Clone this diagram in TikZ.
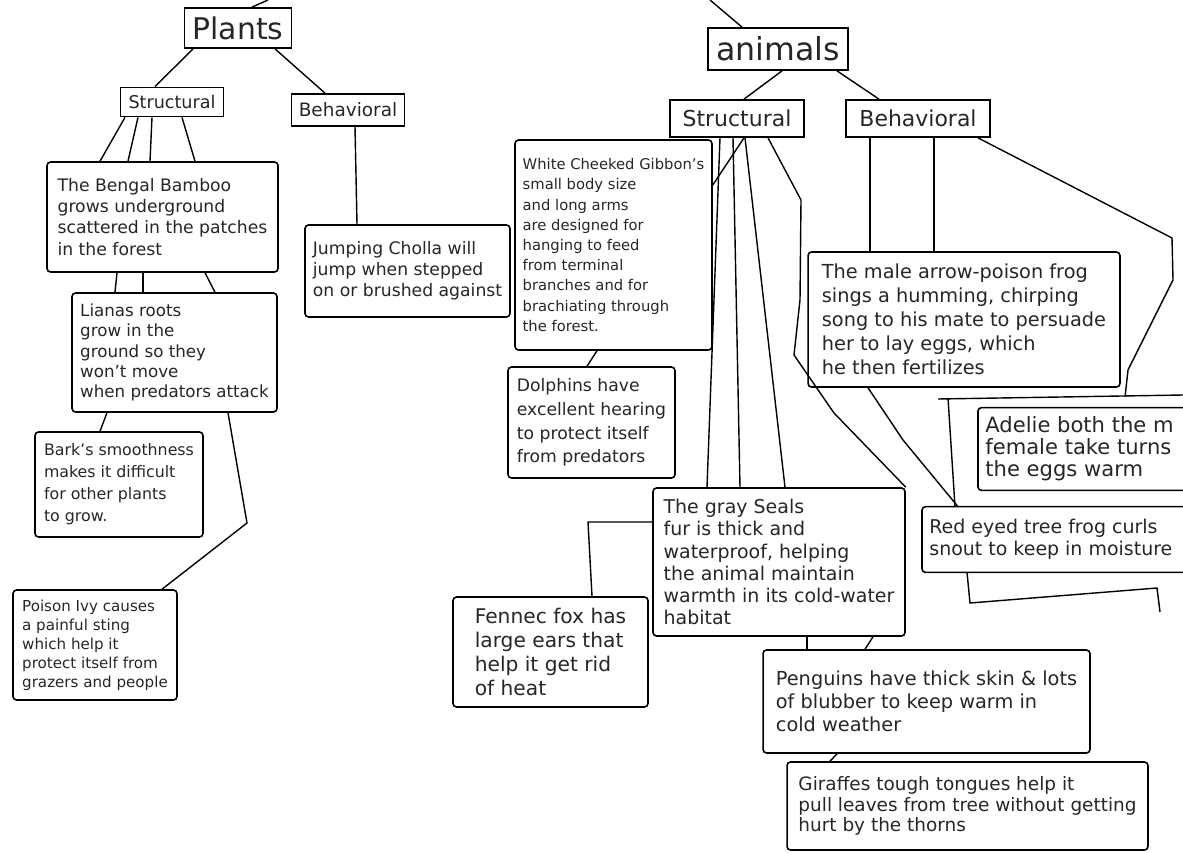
\documentclass[tikz,border=0pt]{standalone}
\usepackage{fontspec}
\setsansfont{DejaVu Sans}
\usepackage{tikz}
\newcommand\handsize[2]{\fontsize{#1}{#2}\selectfont}

\begin{document}
\begin{tikzpicture}[x=0.02cm,y=-0.02cm,
  head/.style={draw,line width=1pt,inner sep=2pt,text=ink},
  card/.style={draw,line width=0.9pt,rounded corners=2pt,align=left,inner sep=4pt,text=ink},
  open/.style={align=left,inner sep=4pt,text=ink,anchor=west},
  link/.style={line width=0.8pt}]
\sffamily
\colorlet{ink}{black!85}
\useasboundingbox (0,0) rectangle (1183,852);

% Plants side
\node[head,font=\handsize{17}{18},minimum width=2.14cm,minimum height=0.8cm] (plants) at (238,28) {Plants};
\node[head,font=\handsize{10}{11},minimum width=2.06cm,minimum height=0.58cm] (pstruct) at (172,102) {Structural};
\node[head,font=\handsize{10.5}{11},minimum width=2.26cm,minimum height=0.64cm] (pbehav) at (348,110) {Behavioral};

\node[card,font=\handsize{9.8}{12},minimum width=4.62cm,minimum height=2.2cm] (bamboo) at (162.5,217)
  {The Bengal Bamboo\\grows underground\\scattered in the patches\\in the forest};
\node[card,font=\handsize{9.5}{11.5},minimum width=4.1cm,minimum height=2.38cm] (lianas) at (174.5,352.5)
  {Lianas roots\\grow in the\\ground so they\\won't move\\when predators attack};
\node[card,font=\handsize{9}{12.5},minimum width=3.36cm,minimum height=2.1cm] (bark) at (119,484.5)
  {Bark's smoothness\\makes it difficult\\for other plants\\to grow.};
\node[card,font=\handsize{8.6}{10.8},minimum width=3.28cm,minimum height=2.2cm] (ivy) at (95,645)
  {Poison Ivy causes\\a painful sting\\which help it\\protect itself from\\grazers and people};
\node[card,font=\handsize{9.8}{12},minimum width=4.1cm,minimum height=1.84cm] (cholla) at (407.5,271)
  {Jumping Cholla will\\jump when stepped\\on or brushed against};

% Animals side
\node[head,font=\handsize{18}{19},minimum width=2.8cm,minimum height=0.84cm] (animals) at (778,49) {animals};
\node[head,font=\handsize{12.5}{13},minimum width=2.68cm,minimum height=0.74cm] (astruct) at (737,118.5) {Structural};
\node[head,font=\handsize{12.5}{13},minimum width=2.88cm,minimum height=0.74cm] (abehav) at (918,118.5) {Behavioral};

\node[card,font=\handsize{8.4}{11.5},minimum width=3.94cm,minimum height=4.2cm] (gibbon) at (613.5,245)
  {White Cheeked Gibbon's\\small body size\\and long arms\\are designed for\\hanging to feed\\from terminal\\branches and for\\brachiating through\\the forest.};
\node[card,font=\handsize{9.8}{13.5},minimum width=3.34cm,minimum height=2.22cm] (dolphin) at (591.5,422.5)
  {Dolphins have\\excellent hearing\\to protect itself\\from predators};
\node[card,font=\handsize{10.8}{12.6},minimum width=5.04cm,minimum height=2.96cm] (seal) at (779,562)
  {The gray Seals\\fur is thick and\\waterproof, helping\\the animal maintain\\warmth in its cold-water\\habitat};
\node[card,font=\handsize{11.5}{13.5},minimum width=3.9cm,minimum height=2.2cm] (fennec) at (550.5,652)
  {Fennec fox has\\large ears that\\help it get rid\\of heat};
\node[card,font=\handsize{11}{13},minimum width=6.54cm,minimum height=2.06cm] (penguins) at (926.5,701.5)
  {Penguins have thick skin \& lots\\of blubber to keep warm in\\cold weather};
\node[card,font=\handsize{10.5}{11.5},minimum width=7.22cm,minimum height=1.76cm] (giraffe) at (967.5,806)
  {Giraffes tough tongues help it\\pull leaves from tree without getting\\hurt by the thorns};
\node[card,font=\handsize{11}{13.6},minimum width=6.24cm,minimum height=2.7cm] (frog) at (964,319.5)
  {The male arrow-poison frog\\sings a humming, chirping\\song to his mate to persuade\\her to lay eggs, which\\he then fertilizes};
% these two run off the page
\node[open,font=\handsize{12}{12.5},minimum height=1.64cm] (adelie) at (978,449)
  {Adelie both the m\\female take turns\\the eggs warm};
\node[open,font=\handsize{10.8}{12.5},minimum height=1.3cm] (redeyed) at (922,539.5)
  {Red eyed tree frog curls\\snout to keep in moisture};
\draw[line width=0.9pt,rounded corners=2pt] (1183,0 |- adelie.north) -- (adelie.north west) -- (adelie.south west) -- (1183,0 |- adelie.south);
\draw[line width=0.9pt,rounded corners=2pt] (1183,0 |- redeyed.north) -- (redeyed.north west) -- (redeyed.south west) -- (1183,0 |- redeyed.south);

% Connectors
\coordinate (proot) at (268,0);
\coordinate (aroot) at (710,0);
\coordinate (bar) at (938,399);
\coordinate (barend) at (1183,395);
\draw[link] (proot) -- (252,0 |- plants.north);
\draw[link] (193,0 |- plants.south) -- (155,0 |- pstruct.north);
\draw[link] (275,0 |- plants.south) -- (325,0 |- pbehav.north);
\draw[link] (125,0 |- pstruct.south) -- (100,0 |- bamboo.north);
\draw[link] (138,0 |- pstruct.south) -- (128,0 |- bamboo.north);
\draw[link] (152,0 |- pstruct.south) -- (150,0 |- bamboo.north);
\draw[link] (182,0 |- pstruct.south) -- (195,0 |- bamboo.north);
\draw[link] (355,0 |- pbehav.south) -- (357,0 |- cholla.north);
\draw[link] (117,0 |- bamboo.south) -- (115,0 |- lianas.north);
\draw[link] (143,0 |- bamboo.south) -- (143,0 |- lianas.north);
\draw[link] (205,0 |- bamboo.south) -- (215,0 |- lianas.north);
\draw[link] (107,0 |- lianas.south) -- (100,0 |- bark.north);
\draw[link] (228,0 |- lianas.south) -- (247,523) -- (162,0 |- ivy.north);

\draw[link] (aroot) -- (742,0 |- animals.north);
\draw[link] (782,0 |- animals.south) -- (744,0 |- astruct.north);
\draw[link] (837,0 |- animals.south) -- (879,0 |- abehav.north);
\draw[link] (744,0 |- astruct.south) -- (gibbon.east |- 0,185);
\draw[link] (720,0 |- astruct.south) -- (707,0 |- seal.north);
\draw[link] (733,0 |- astruct.south) -- (740,0 |- seal.north);
\draw[link] (745,0 |- astruct.south) -- (785,0 |- seal.north);
\draw[link] (768,0 |- astruct.south) -- (801,200) -- (800,300) -- (794,355) -- (834,413) -- (seal.north east);
\draw[link] (597,0 |- gibbon.south) -- (587,0 |- dolphin.north);
\draw[link] (seal.west |- 0,522) -- (588,522) -- (592,0 |- fennec.north);
\draw[link] (807,0 |- seal.south) -- (807,0 |- penguins.north);
\draw[link] (873,0 |- seal.south) -- (865,0 |- penguins.north);
\draw[link] (837,0 |- penguins.south) -- (830,0 |- giraffe.north);

\draw[link] (870,0 |- abehav.south) -- (870,0 |- frog.north);
\draw[link] (934,0 |- abehav.south) -- (934,0 |- frog.north);
\draw[link] (978,0 |- abehav.south) -- (1172,238) -- (1173,280) -- (1128,370) -- (1125,397);
\draw[link] (bar) -- (barend);
\draw[link] (948,398) -- (955,0 |- redeyed.north);
\draw[link] (868,0 |- frog.south) -- (903,440) -- (958,0 |- redeyed.north);
\draw[link] (967,0 |- redeyed.south) -- (970,603) -- (1157,588) -- (1160,612);
\end{tikzpicture}
\end{document}
